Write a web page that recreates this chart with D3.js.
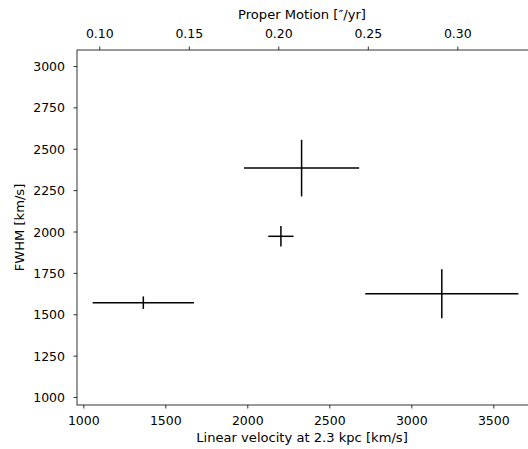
<!DOCTYPE html>
<html>
<head>
<meta charset="utf-8">
<script src="https://cdn.jsdelivr.net/npm/d3@7"></script>
<style>
  html, body { margin: 0; padding: 0; background: #fff; }
  svg { display: block; font-family: "DejaVu Sans", sans-serif; }
</style>
</head>
<body>
<svg id="chart" width="528" height="449"></svg>
<script>
// Data
const velocity = [1366, 2205, 2331, 3186];      // Linear velocity at 2.3 kpc [km/s]
const velocityErr = [309, 77, 351, 467];
const fwhm = [1570, 1971, 2383, 1624];           // FWHM [km/s]
const fwhmErr = [38, 62, 171, 148];

const xTicks = [1000, 1500, 2000, 2500, 3000, 3500];
const yTicks = [1000, 1250, 1500, 1750, 2000, 2250, 2500, 2750, 3000];
const pmTicks = [0.10, 0.15, 0.20, 0.25, 0.30];

const xLabel = "Linear velocity at 2.3 kpc [km/s]";
const yLabel = "FWHM [km/s]";
const topLabel = "Proper Motion [\u2033/yr]";

const svg = d3.select("#chart");
const L = 77, R = 528.6, T = 50, B = 405;

const x = d3.scaleLinear().domain([961.6, 1000 + (R - 83.3) / 82 * 500]).range([L, R]);
const y = d3.scaleLinear().domain([951.7, 3096.7]).range([B, T]);
const xTop = d3.scaleLinear().domain([0.08754, 0.30 + (R - 457.3) / 1790]).range([L, R]);

const tickFont = 12.5;
const labelFont = 13.1;

// Error bars
const g = svg.append("g");
velocity.forEach((v, i) => {
  g.append("line")
    .attr("x1", x(v - velocityErr[i])).attr("x2", x(v + velocityErr[i]))
    .attr("y1", y(fwhm[i])).attr("y2", y(fwhm[i]))
    .attr("stroke", "#000").attr("stroke-width", 1.5);
  g.append("line")
    .attr("x1", x(v)).attr("x2", x(v))
    .attr("y1", y(fwhm[i] - fwhmErr[i])).attr("y2", y(fwhm[i] + fwhmErr[i]))
    .attr("stroke", "#000").attr("stroke-width", 1.5);
});

// Frame
svg.append("rect")
  .attr("x", L).attr("y", T).attr("width", R - L).attr("height", B - T)
  .attr("fill", "none").attr("stroke", "#000").attr("stroke-width", 0.8);

// Bottom axis
const gx = svg.append("g").attr("transform", `translate(0,${B})`)
  .call(d3.axisBottom(x).tickValues(xTicks).tickSize(3.5).tickSizeOuter(0).tickFormat(d3.format("d")));
gx.select(".domain").remove();
gx.selectAll(".tick line").attr("stroke", "#000").attr("stroke-width", 0.8);
gx.selectAll(".tick text").attr("y", 19.5).attr("dy", 0)
  .attr("font-size", tickFont).attr("font-family", "DejaVu Sans").attr("fill", "#000");

// Top axis
const gt = svg.append("g").attr("transform", `translate(0,${T})`)
  .call(d3.axisTop(xTop).tickValues(pmTicks).tickSize(3.5).tickSizeOuter(0).tickFormat(d3.format(".2f")));
gt.select(".domain").remove();
gt.selectAll(".tick line").attr("stroke", "#000").attr("stroke-width", 0.8);
gt.selectAll(".tick text").attr("y", -12).attr("dy", 0)
  .attr("font-size", tickFont).attr("font-family", "DejaVu Sans").attr("fill", "#000");

// Left axis
const gy = svg.append("g").attr("transform", `translate(${L},0)`)
  .call(d3.axisLeft(y).tickValues(yTicks).tickSize(3.5).tickSizeOuter(0).tickFormat(d3.format("d")));
gy.select(".domain").remove();
gy.selectAll(".tick line").attr("stroke", "#000").attr("stroke-width", 0.8);
gy.selectAll(".tick text").attr("x", -12).attr("dy", "0.36em")
  .attr("font-size", tickFont).attr("font-family", "DejaVu Sans").attr("fill", "#000");

// Labels
svg.append("text")
  .attr("x", (L + 527) / 2).attr("y", 442)
  .attr("text-anchor", "middle").attr("font-size", labelFont).attr("fill", "#000")
  .text(xLabel);
svg.append("text")
  .attr("x", (L + 527) / 2).attr("y", 19)
  .attr("text-anchor", "middle").attr("font-size", labelFont).attr("fill", "#000")
  .text(topLabel);
svg.append("text")
  .attr("transform", `translate(24,${(T + B) / 2}) rotate(-90)`)
  .attr("text-anchor", "middle").attr("font-size", labelFont).attr("fill", "#000")
  .text(yLabel);
</script>
</body>
</html>
